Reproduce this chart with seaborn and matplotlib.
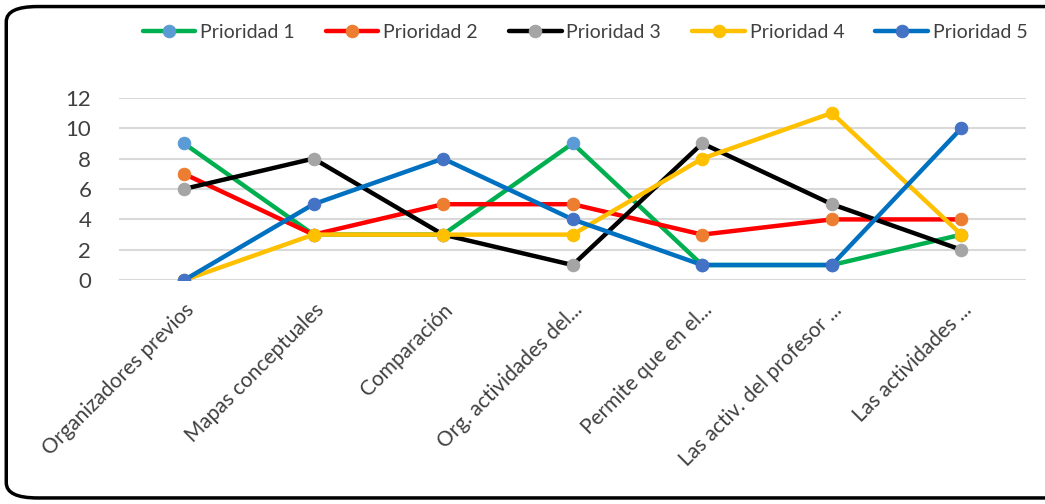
import numpy as np
import pandas as pd
import matplotlib
matplotlib.use("Agg")
import matplotlib.pyplot as plt
import seaborn as sns
from matplotlib.patches import FancyBboxPatch

categories = ["Organizadores previos", "Mapas conceptuales", "Comparación",
              "Org. actividades del...", "Permite que en el...",
              "Las activ. del profesor ...", "Las actividades ..."]

prioridad_1 = [9, 3, 3, 9, 1, 1, 3]
prioridad_2 = [7, 3, 5, 5, 3, 4, 4]
prioridad_3 = [6, 8, 3, 1, 9, 5, 2]
prioridad_4 = [0, 3, 3, 3, 8, 11, 3]
prioridad_5 = [0, 5, 8, 4, 1, 1, 10]

series_names = ["Prioridad 1", "Prioridad 2", "Prioridad 3", "Prioridad 4", "Prioridad 5"]
series_values = [prioridad_1, prioridad_2, prioridad_3, prioridad_4, prioridad_5]
line_colors = ["#00B050", "#FF0000", "#000000", "#FFC000", "#0070C0"]
marker_colors = ["#5B9BD5", "#ED7D31", "#A5A5A5", "#FFC000", "#4472C4"]

sns.set_style("white")
plt.rcParams["font.family"] = ["Lato", "DejaVu Sans"]

fig = plt.figure(figsize=(10.45, 5.04), dpi=100)
ax = fig.add_axes([0.114, 0.444, 0.868, 0.362])

for name, vals, lc, mc in zip(series_names, series_values, line_colors, marker_colors):
    d = pd.DataFrame({"cat": categories, "val": vals})
    sns.lineplot(data=d, x="cat", y="val", ax=ax, sort=False, color=lc, lw=3.2,
                 marker="o", markersize=9, markerfacecolor=mc, markeredgecolor=mc,
                 label=name)

ax.set_xlim(-0.5, len(categories) - 0.5)
ax.set_ylim(0, 12)
ax.set_yticks(range(0, 13, 2))
ax.yaxis.grid(True, color="#D9D9D9", lw=1.5)
ax.set_axisbelow(True)
for s in ax.spines.values():
    s.set_visible(False)
ax.set_xlabel("")
ax.set_ylabel("")
ax.tick_params(axis="y", labelsize=16, colors="#404040", length=0, pad=20)
ax.tick_params(axis="x", labelsize=15, colors="#404040", length=0, pad=14)
plt.setp(ax.get_xticklabels(), rotation=45, ha="right", rotation_mode="anchor")

handles, labels = ax.get_legend_handles_labels()
ax.get_legend().remove()
fig.legend(handles, labels, loc="center", bbox_to_anchor=(0.56, 0.935), ncol=5,
           frameon=False, fontsize=14, handlelength=2.7, columnspacing=1.6,
           handletextpad=0.25, labelcolor="#404040")

border = FancyBboxPatch((0.006, 0.012), 1.05, 0.975, transform=fig.transFigure,
                        boxstyle="round,pad=0,rounding_size=0.03",
                        fill=False, edgecolor="black", lw=2.5, clip_on=False)
fig.patches.append(border)

fig.savefig("out.png", dpi=100)
